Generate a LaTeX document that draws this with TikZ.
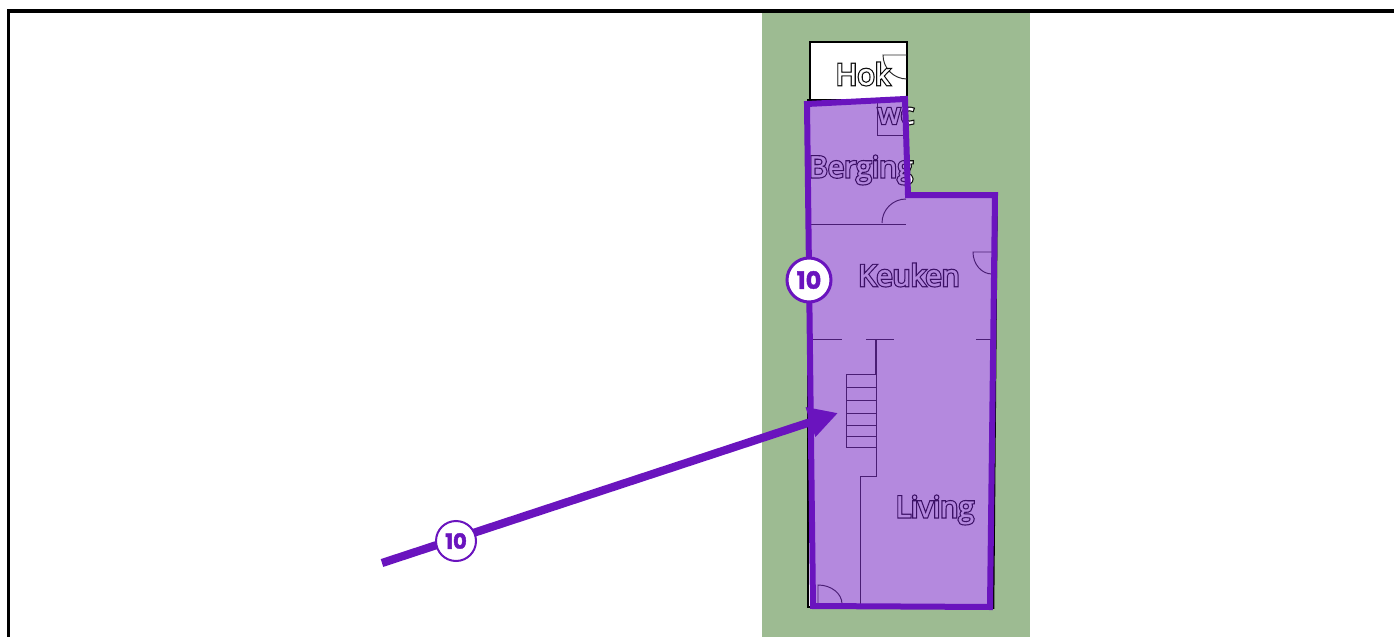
\documentclass[tikz,border=0pt]{standalone}
\usepackage{fontspec}
\usetikzlibrary{arrows.meta}
\setmainfont{Open Sans}
\newfontfamily\badgefont{Poppins}[UprightFont=* Bold]
\newcommand{\outlined}[1]{\rlap{\special{pdf:code 2 Tr 1.35 w 0.05 0.05 0.05 RG}#1}\special{pdf:code 2 Tr 0.15 w 1 1 1 RG}#1}
\newcommand{\heavy}[1]{\special{pdf:code 2 Tr 0.2 w}#1}
\definecolor{lawn}{HTML}{9DBB92}
\definecolor{route}{HTML}{6A14BE}
\definecolor{wall}{HTML}{2A2A2A}
\tikzstyle{frameline} = [black,line width=1.75pt]
\tikzstyle{shell} = [fill=white,draw=black,line width=0.8pt]
\tikzstyle{plan} = [wall,line width=0.48pt]
\tikzstyle{room} = [text=white,inner sep=0pt,font=\fontsize{14.6}{14.6}\selectfont]
\tikzstyle{zone} = [fill=route,fill opacity=0.5,draw=none]
\tikzstyle{zoneline} = [draw=route,line width=3pt,miter limit=10]
\tikzstyle{arrow} = [route,line width=4.1pt,-{Triangle[length=14.5pt,width=14.7pt]}]
\tikzstyle{badge} = [circle,fill=white,draw=route,text=route,inner sep=0pt,font=\badgefont]

\begin{document}
\begin{tikzpicture}[x=0.5pt,y=-0.5pt]
  \useasboundingbox (0,0) rectangle (1394,637);
  \fill[white] (0,0) rectangle (1394,637);
  \fill[lawn] (762,12) rectangle (1030,637);
  \draw[shell] (808,100) -- (906,100) -- (906,195) -- (997,195) -- (993.5,608) -- (808,607) -- cycle;
  \draw[shell] (810,42) rectangle (907,100);
  % doors
  \draw[plan] (907,55) -- (883,55) arc[start angle=180,end angle=90,radius=24];
  \draw[plan] (906,199) arc[start angle=270,end angle=180,radius=24];
  \draw[plan] (993,252) -- (973,252) arc[start angle=180,end angle=90,x radius=19,y radius=22];
  \draw[plan] (818,604) -- (818,585) arc[start angle=270,end angle=360,x radius=24,y radius=19];
  % walls
  \draw[plan] (877,100) -- (877,135) -- (905,135);
  \draw[plan] (808,224) -- (906,224);
  \draw[plan] (812,339) -- (842,339);
  \draw[plan] (866,339) -- (894,339);
  \draw[plan] (976,339) -- (992,339);
  \draw[plan,line width=0.7pt] (876,339) -- (876,374);
  \draw[plan] (876,374) -- (876,476) -- (860,476) -- (860,605);
  % stairs
  \draw[plan] (876,374) -- (846,374) -- (846,447) -- (876,447);
  \foreach \stepy in {387,400,413,425,436}
    \draw[plan] (846,\stepy) -- (876,\stepy);
  \node[room] (hok) at (863,74) {\outlined{Hok}};
  \node[room] (wc) at (896,116) {\outlined{wc}};
  \node[room] (berging) at (861,170) {\outlined{Berging}};
  \node[room] (keuken) at (909,275) {\outlined{Keuken}};
  \node[room] (living) at (935,510) {\outlined{Living}};
  \path[zone] (807,104) -- (905,99) -- (908,195) -- (995,195) -- (990,607) -- (813,606) -- cycle;
  \draw[zoneline] (807,104) -- (905,99) -- (908,195) -- (995,195) -- (990,607) -- (813,606) -- cycle;
  \coordinate (from) at (382,563);
  \coordinate (to) at (838,413);
  \draw[arrow] (from) -- (to);
  \node[badge,line width=1pt,minimum size=20pt,font=\badgefont\fontsize{10.5}{10.5}\selectfont] (badgeroute) at (456,541) {\heavy{10}};
  \node[badge,line width=1.5pt,minimum size=22pt,font=\badgefont\fontsize{12}{12}\selectfont] (badgezone) at (809,280) {\heavy{10}};
  \draw[frameline] (8.5,637) -- (8.5,11) -- (1394,11);
\end{tikzpicture}
\end{document}
